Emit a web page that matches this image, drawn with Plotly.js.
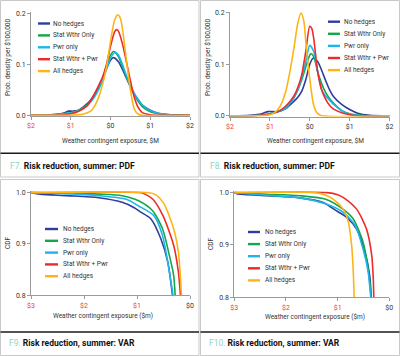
<!DOCTYPE html>
<html>
<head>
<meta charset="utf-8">
<script src="https://cdn.plot.ly/plotly-3.0.1.min.js"></script>
<style>
html,body{margin:0;padding:0;background:#fff;}
#chart{width:400px;height:356px;}
</style>
</head>
<body>
<div id="chart"></div>
<script>
// ---------- data ----------
const seriesNames = ['No hedges', 'Stat Wthr Only', 'Pwr only', 'Stat Wthr + Pwr', 'All hedges'];

const pdfTickVals = [-2, -1, 0, 1, 2];
const pdfTickText = ['$2', '$1', '$0', '$1', '$2'];
const pdfYTickVals = [0, 0.1, 0.2];
const pdfYTickText = ['0.0', '0.1', '0.2'];
const cdfTickVals = [-3, -2, -1, 0];
const cdfTickText = ['$3', '$2', '$1', '$0'];
const cdfYTickVals = [0.8, 0.9, 1.0];
const cdfYTickText = ['0.8', '0.9', '1.0'];

const captionNumbers = ['F7.', 'F8.', 'F9.', 'F10.'];
const captionTexts = ['Risk reduction, summer: PDF', 'Risk reduction, summer: PDF',
                      'Risk reduction, summer: VAR', 'Risk reduction, summer: VAR'];
const xTitles = ['Weather contingent exposure, $M', 'Weather contingent exposure, $M',
                 'Weather contingent exposure ($m)', 'Weather contingent exposure ($m)'];
const yTitles = ['Prob. density per $100,000', 'Prob. density per $100,000', 'CDF', 'CDF'];

// F7 PDF
const f7NoHedgesX = [-2,-1.5,-1.2,-1.05,-0.95,-0.8,-0.6,-0.5,-0.4,-0.3,-0.2,-0.1,0,0.07,0.2,0.3,0.4,0.5,0.6,0.7,0.8,1.0,1.2,1.5,2];
const f7NoHedgesY = [0,0.001,0.004,0.008,0.008,0.01,0.022,0.03,0.042,0.055,0.072,0.092,0.108,0.113,0.105,0.09,0.073,0.056,0.042,0.03,0.02,0.01,0.004,0.001,0];
const f7StatX = [-2,-1.5,-1.2,-1.0,-0.8,-0.6,-0.5,-0.4,-0.3,-0.2,-0.1,0,0.08,0.2,0.3,0.4,0.5,0.6,0.7,0.8,1.0,1.2,1.5,2];
const f7StatY = [0,0.001,0.003,0.005,0.01,0.02,0.028,0.038,0.052,0.07,0.095,0.118,0.125,0.115,0.095,0.075,0.056,0.04,0.027,0.017,0.007,0.003,0.001,0];
const f7PwrX = [-2,-1.5,-1.2,-1.0,-0.8,-0.6,-0.5,-0.4,-0.3,-0.2,-0.1,0,0.12,0.2,0.3,0.4,0.5,0.6,0.7,0.8,1.0,1.2,1.5,2];
const f7PwrY = [0,0.001,0.003,0.005,0.009,0.018,0.026,0.036,0.05,0.068,0.09,0.112,0.123,0.118,0.1,0.078,0.058,0.042,0.03,0.02,0.009,0.004,0.001,0];
const f7StatPwrX = [-2,-1.5,-1.2,-1.0,-0.8,-0.6,-0.5,-0.4,-0.3,-0.2,-0.1,0,0.1,0.15,0.2,0.3,0.4,0.5,0.6,0.7,0.8,1.0,1.2,2];
const f7StatPwrY = [0,0,0.001,0.003,0.008,0.018,0.028,0.042,0.058,0.075,0.1,0.135,0.163,0.168,0.165,0.14,0.105,0.068,0.035,0.015,0.005,0.001,0,0];
const f7AllX = [-2,-1.0,-0.7,-0.5,-0.4,-0.3,-0.2,-0.1,0,0.1,0.18,0.25,0.3,0.4,0.5,0.6,0.7,0.8,2];
const f7AllY = [0,0,0.002,0.008,0.018,0.035,0.06,0.095,0.145,0.186,0.197,0.19,0.17,0.108,0.05,0.012,0.002,0,0];

// F8 PDF
const f8NoHedgesX = [-2,-1.5,-1.2,-1.05,-0.95,-0.8,-0.6,-0.4,-0.3,-0.2,-0.1,0,0.08,0.2,0.3,0.4,0.5,0.6,0.8,1.0,1.2,1.5,2];
const f8NoHedgesY = [0,0.001,0.004,0.008,0.008,0.008,0.014,0.028,0.036,0.048,0.07,0.1,0.112,0.105,0.088,0.068,0.05,0.037,0.022,0.012,0.005,0.001,0];
const f8StatX = [-2,-1.5,-1.2,-1.0,-0.8,-0.6,-0.4,-0.3,-0.2,-0.1,0,0.03,0.1,0.2,0.3,0.4,0.5,0.6,0.8,1.0,1.3,1.6,2];
const f8StatY = [0,0,0.002,0.004,0.008,0.016,0.035,0.05,0.07,0.095,0.118,0.121,0.115,0.085,0.062,0.045,0.033,0.024,0.01,0.004,0.001,0,0];
const f8PwrX = [-2,-1.5,-1.2,-1.0,-0.8,-0.6,-0.4,-0.3,-0.2,-0.1,0,0.1,0.2,0.3,0.4,0.5,0.6,0.8,1.0,1.3,2];
const f8PwrY = [0,0,0.002,0.004,0.008,0.015,0.035,0.05,0.075,0.105,0.137,0.125,0.085,0.05,0.038,0.03,0.022,0.01,0.003,0,0];
const f8StatPwrX = [-2,-1.5,-1.0,-0.8,-0.6,-0.4,-0.3,-0.2,-0.1,0,0.05,0.1,0.2,0.3,0.4,0.5,0.6,0.8,1.0,1.2,2];
const f8StatPwrY = [0,0,0.003,0.008,0.019,0.038,0.055,0.08,0.125,0.174,0.17,0.15,0.085,0.05,0.032,0.02,0.013,0.006,0.002,0,0];
const f8AllX = [-2,-1.2,-1.0,-0.9,-0.8,-0.7,-0.6,-0.5,-0.4,-0.3,-0.22,-0.15,-0.1,0,0.1,0.2,0.3,2];
const f8AllY = [0,0,0.002,0.005,0.012,0.025,0.048,0.085,0.13,0.18,0.2,0.185,0.145,0.072,0.02,0.004,0,0];

// F9 CDF
const f9NoHedgesX = [-3,-2.83,-2.31,-1.72,-1.28,-1.06,-0.93,-0.74,-0.55,-0.42,-0.33];
const f9NoHedgesY = [1.0,0.997,0.994,0.99,0.981,0.971,0.962,0.949,0.91,0.865,0.8];
const f9StatX = [-3,-2.34,-1.72,-1.28,-0.97,-0.71,-0.52,-0.39,-0.31,-0.28];
const f9StatY = [1.0,0.999,0.997,0.994,0.984,0.965,0.93,0.878,0.84,0.8];
const f9PwrX = [-3,-2.3,-1.72,-1.2,-0.97,-0.68,-0.52,-0.42,-0.32];
const f9PwrY = [1.0,0.998,0.994,0.987,0.974,0.955,0.917,0.865,0.8];
const f9StatPwrX = [-3,-0.95,-0.85,-0.7,-0.51,-0.31,-0.22,-0.18];
const f9StatPwrY = [1.0,1.0,0.997,0.987,0.955,0.898,0.846,0.8];
const f9AllX = [-3,-0.8,-0.65,-0.5,-0.31,-0.22,-0.16];
const f9AllY = [1.0,1.0,0.996,0.98,0.93,0.885,0.8];

// F10 CDF
const f10NoHedgesX = [-3,-2.95,-2.37,-1.73,-1.28,-1.02,-0.83,-0.63,-0.47,-0.38,-0.35];
const f10NoHedgesY = [1.0,0.998,0.994,0.99,0.981,0.965,0.953,0.93,0.886,0.842,0.8];
const f10StatX = [-3,-2.37,-1.73,-1.22,-0.89,-0.7,-0.51,-0.41,-0.35];
const f10StatY = [1.0,0.997,0.994,0.987,0.968,0.95,0.906,0.855,0.8];
const f10PwrX = [-3,-2.37,-1.73,-1.22,-0.89,-0.66,-0.51,-0.41,-0.36];
const f10PwrY = [1.0,0.995,0.99,0.978,0.962,0.937,0.893,0.849,0.8];
const f10StatPwrX = [-3,-1.2,-1.0,-0.88,-0.63,-0.44,-0.34,-0.31,-0.3];
const f10StatPwrY = [1.0,1.0,0.996,0.99,0.968,0.93,0.88,0.835,0.8];
const f10AllX = [-3,-1.47,-1.25,-1.08,-0.89,-0.79,-0.73,-0.7,-0.68];
const f10AllY = [1.0,1.0,0.996,0.987,0.968,0.943,0.9,0.855,0.8];

// ---------- styling / layout ----------
const colors = ['#2f3e9c', '#16a54a', '#1cb5ec', '#ee2b2b', '#fdb515'];
const W = 400, H = 356;
const px = v => v / W;
const py = v => 1 - v / H;
const FONT = 'Roboto, "Open Sans", sans-serif';
const RED = '#e5403a';

const panels = [
  {xs:[f7NoHedgesX,f7StatX,f7PwrX,f7StatPwrX,f7AllX], ys:[f7NoHedgesY,f7StatY,f7PwrY,f7StatPwrY,f7AllY]},
  {xs:[f8NoHedgesX,f8StatX,f8PwrX,f8StatPwrX,f8AllX], ys:[f8NoHedgesY,f8StatY,f8PwrY,f8StatPwrY,f8AllY]},
  {xs:[f9NoHedgesX,f9StatX,f9PwrX,f9StatPwrX,f9AllX], ys:[f9NoHedgesY,f9StatY,f9PwrY,f9StatPwrY,f9AllY]},
  {xs:[f10NoHedgesX,f10StatX,f10PwrX,f10StatPwrX,f10AllX], ys:[f10NoHedgesY,f10StatY,f10PwrY,f10StatPwrY,f10AllY]}
];

// plot-area pixel boxes [left, right, top, bottom]
const boxes = [[31, 190, 12, 116], [230, 389.5, 11.7, 116.5], [31, 190, 191.3, 295.3], [234.3, 389.3, 191.3, 297.3]];

const traces = [];
panels.forEach((p, pi) => {
  const suf = pi === 0 ? '' : String(pi + 1);
  for (let s = 0; s < 5; s++) {
    traces.push({
      type: 'scatter', mode: 'lines', name: seriesNames[s],
      x: p.xs[s], y: p.ys[s], xaxis: 'x' + suf, yaxis: 'y' + suf,
      line: {color: colors[s], width: 1.6, shape: 'spline', smoothing: 0.7},
      showlegend: false, hoverinfo: 'skip'
    });
  }
});

const colorTicks = (vals, txt) => txt.map((t, i) => vals[i] < 0 ? '<span style="color:' + RED + '">' + t + '</span>' : t);

const layout = {
  width: W, height: H, margin: {l: 0, r: 0, t: 0, b: 0},
  paper_bgcolor: '#fff', plot_bgcolor: 'rgba(0,0,0,0)',
  font: {family: FONT, size: 7, color: '#333'},
  showlegend: false, shapes: [], annotations: []
};

boxes.forEach((b, i) => {
  const suf = i === 0 ? '' : String(i + 1);
  const isPdf = i < 2;
  const common = {showline: true, linecolor: '#9a9a9a', linewidth: 1, ticks: 'outside', ticklen: 3,
                  tickcolor: '#9a9a9a', showgrid: false, zeroline: false, fixedrange: true,
                  tickfont: {family: FONT, size: 7, color: '#333'}};
  layout['xaxis' + suf] = Object.assign({}, common, {
    domain: [px(b[0]), px(b[1])], anchor: 'y' + suf,
    range: isPdf ? [-2, 2] : [-3, 0], tickmode: 'array',
    tickvals: isPdf ? pdfTickVals : cdfTickVals,
    ticktext: isPdf ? colorTicks(pdfTickVals, pdfTickText) : colorTicks(cdfTickVals, cdfTickText)
  });
  layout['yaxis' + suf] = Object.assign({}, common, {
    domain: [py(b[3]), py(b[2])], anchor: 'x' + suf,
    range: isPdf ? [0, 0.2] : [0.8, 1.0], tickmode: 'array',
    tickvals: isPdf ? pdfYTickVals : cdfYTickVals,
    ticktext: isPdf ? pdfYTickText : cdfYTickText
  });
});
// expand slightly so lines at the limits are not clipped in half
['yaxis', 'yaxis2'].forEach(k => layout[k].range = [-0.0015, 0.2025]);
['yaxis3', 'yaxis4'].forEach(k => layout[k].range = [0.8, 1.0025]);

// panel frames
const frames = [[0.5, 199, 0.5, 177], [200.5, 399.5, 0.5, 177], [0.5, 199, 179.5, 355.5], [200.5, 399.5, 179.5, 355.5]];
const sepY = [153.3, 153.3, 332, 332];
frames.forEach((f, i) => {
  layout.shapes.push({type: 'rect', xref: 'paper', yref: 'paper', x0: px(f[0]), x1: px(f[1]), y0: py(f[3]), y1: py(f[2]),
    line: {color: '#c9c9c9', width: 1}, fillcolor: 'rgba(0,0,0,0)', layer: 'below'});
  layout.shapes.push({type: 'line', xref: 'paper', yref: 'paper', x0: px(f[0]), x1: px(f[1]), y0: py(sepY[i]), y1: py(sepY[i]),
    line: {color: '#1a1a1a', width: 1.6}});
});

// captions
const capPos = [[8, 166], [208, 166], [7, 343], [207, 343]];
capPos.forEach((c, i) => {
  layout.annotations.push({xref: 'paper', yref: 'paper', x: px(c[0]), y: py(c[1]), xanchor: 'left', yanchor: 'middle',
    showarrow: false, font: {family: FONT, size: 8.5, color: '#111'},
    text: '<span style="color:#8fd4c6">' + captionNumbers[i] + '</span> <b>' + captionTexts[i] + '</b>'});
});

// axis titles
const xTitlePos = [[110, 141], [315, 141], [103, 316], [315, 317]];
const yTitlePos = [[8, 58], [208, 58], [8, 243], [211, 244]];
for (let i = 0; i < 4; i++) {
  layout.annotations.push({xref: 'paper', yref: 'paper', x: px(xTitlePos[i][0]), y: py(xTitlePos[i][1]),
    xanchor: 'center', yanchor: 'middle', showarrow: false, text: xTitles[i], font: {family: FONT, size: 6.5, color: '#333'}});
  layout.annotations.push({xref: 'paper', yref: 'paper', x: px(yTitlePos[i][0]), y: py(yTitlePos[i][1]),
    xanchor: 'center', yanchor: 'middle', textangle: -90, showarrow: false, text: yTitles[i], font: {family: FONT, size: 6.5, color: '#333'}});
}

// legends: [swatch x0, swatch x1, text x, first row y, row step]
const legends = [[38, 50, 51, 23.5, 11.9], [328, 340, 342, 21.7, 12.1], [45, 58, 61, 229, 11.8], [248, 260, 263, 232, 12.1]];
legends.forEach(L => {
  for (let s = 0; s < 5; s++) {
    const yy = L[3] + s * L[4];
    layout.shapes.push({type: 'line', xref: 'paper', yref: 'paper', x0: px(L[0]), x1: px(L[1]), y0: py(yy), y1: py(yy),
      line: {color: colors[s], width: 2.4}});
    layout.annotations.push({xref: 'paper', yref: 'paper', x: px(L[2]), y: py(yy), xanchor: 'left', yanchor: 'middle',
      showarrow: false, text: seriesNames[s], font: {family: FONT, size: 6.5, color: '#333'}});
  }
});

Plotly.newPlot('chart', traces, layout, {staticPlot: true, displayModeBar: false});
</script>
</body>
</html>
